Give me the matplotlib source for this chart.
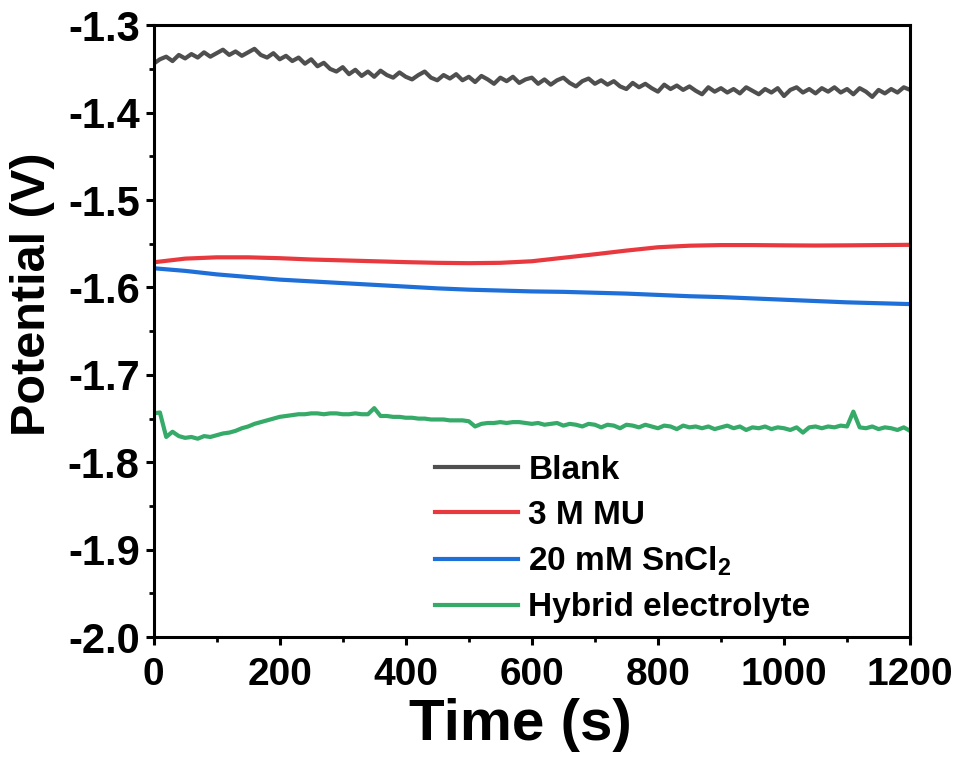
import numpy as np
import matplotlib
matplotlib.use('Agg')
import matplotlib.pyplot as plt
from matplotlib.ticker import MultipleLocator

plt.rcParams['font.family'] = ['Liberation Sans', 'DejaVu Sans']
plt.rcParams['font.weight'] = 'bold'
plt.rcParams['mathtext.fontset'] = 'custom'
plt.rcParams['mathtext.rm'] = 'Liberation Sans:bold'
plt.rcParams['mathtext.bf'] = 'Liberation Sans:bold'
plt.rcParams['mathtext.default'] = 'bf'

# time grids (s)
t_fine = np.arange(0, 1201, 10)
t_coarse = np.arange(0, 1201, 50)

# open circuit potential (V)
blank = [
    -1.344, -1.339, -1.336, -1.341, -1.334, -1.338, -1.333, -1.337, -1.331, -1.336, -1.332, -1.328,
    -1.334, -1.330, -1.335, -1.331, -1.327, -1.334, -1.337, -1.332, -1.339, -1.335, -1.341, -1.337,
    -1.344, -1.339, -1.347, -1.343, -1.350, -1.353, -1.348, -1.356, -1.351, -1.358, -1.353, -1.359,
    -1.352, -1.357, -1.360, -1.354, -1.359, -1.362, -1.357, -1.353, -1.360, -1.363, -1.357, -1.361,
    -1.356, -1.363, -1.359, -1.365, -1.358, -1.362, -1.367, -1.360, -1.364, -1.359, -1.366, -1.362,
    -1.360, -1.367, -1.362, -1.368, -1.363, -1.360, -1.366, -1.370, -1.364, -1.361, -1.367, -1.363,
    -1.368, -1.364, -1.370, -1.373, -1.366, -1.371, -1.367, -1.372, -1.376, -1.368, -1.373, -1.369,
    -1.374, -1.370, -1.375, -1.379, -1.371, -1.376, -1.372, -1.377, -1.373, -1.378, -1.371, -1.375,
    -1.379, -1.373, -1.377, -1.372, -1.381, -1.374, -1.371, -1.377, -1.373, -1.378, -1.372, -1.376,
    -1.371, -1.377, -1.373, -1.379, -1.372, -1.376, -1.382, -1.374, -1.378, -1.373, -1.377, -1.371,
    -1.374,
]

mu = [
    -1.5712, -1.5670, -1.5655, -1.5655, -1.5665, -1.5680, -1.5690, -1.5700, -1.5710,
    -1.5718, -1.5722, -1.5718, -1.5700, -1.5660, -1.5620, -1.5578, -1.5540, -1.5522,
    -1.5515, -1.5515, -1.5518, -1.5520, -1.5518, -1.5515, -1.5512,
]

sncl2 = [
    -1.578, -1.581, -1.585, -1.588, -1.591, -1.593, -1.595, -1.597, -1.599,
    -1.601, -1.6025, -1.6035, -1.6045, -1.605, -1.606, -1.607, -1.6085, -1.610,
    -1.611, -1.6125, -1.614, -1.6155, -1.617, -1.618, -1.619,
]

hybrid = [
    -1.744, -1.743, -1.771, -1.765, -1.770, -1.772, -1.771, -1.773, -1.770, -1.771, -1.769, -1.767,
    -1.766, -1.764, -1.761, -1.759, -1.756, -1.754, -1.752, -1.750, -1.748, -1.747, -1.746, -1.745,
    -1.745, -1.744, -1.744, -1.745, -1.744, -1.744, -1.745, -1.745, -1.744, -1.745, -1.745, -1.738,
    -1.747, -1.747, -1.748, -1.748, -1.749, -1.749, -1.750, -1.750, -1.751, -1.751, -1.751, -1.752,
    -1.752, -1.752, -1.753, -1.759, -1.756, -1.755, -1.755, -1.754, -1.755, -1.754, -1.754, -1.755,
    -1.756, -1.755, -1.757, -1.756, -1.755, -1.758, -1.756, -1.757, -1.759, -1.756, -1.757, -1.760,
    -1.757, -1.758, -1.761, -1.757, -1.758, -1.760, -1.757, -1.759, -1.761, -1.758, -1.759, -1.762,
    -1.758, -1.760, -1.759, -1.761, -1.759, -1.762, -1.760, -1.758, -1.761, -1.759, -1.763, -1.760,
    -1.761, -1.759, -1.762, -1.760, -1.761, -1.763, -1.760, -1.766, -1.760, -1.759, -1.761, -1.759,
    -1.760, -1.758, -1.759, -1.742, -1.760, -1.761, -1.759, -1.762, -1.760, -1.761, -1.763, -1.760,
    -1.764,
]

fig = plt.figure(figsize=(9.6, 7.64), dpi=100)
ax = fig.add_axes([0.160, 0.166, 0.788, 0.801])

lw = 3.0
ax.plot(t_fine, blank, color='#4f4f4f', lw=lw, label='Blank')
ax.plot(t_coarse, mu, color='#e8393f', lw=lw, label='3 M MU')
ax.plot(t_coarse, sncl2, color='#1f6fd8', lw=lw, label='20 mM SnCl$_2$')
ax.plot(t_fine, hybrid, color='#36aa68', lw=lw, label='Hybrid electrolyte')

ax.set_xlim(0, 1200)
ax.set_ylim(-2.0, -1.3)
ax.xaxis.set_major_locator(MultipleLocator(200))
ax.xaxis.set_minor_locator(MultipleLocator(100))
ax.yaxis.set_major_locator(MultipleLocator(0.1))
ax.yaxis.set_minor_locator(MultipleLocator(0.05))
ax.yaxis.set_major_formatter(plt.FuncFormatter(lambda v, p: f'{v:.1f}'))

for s in ax.spines.values():
    s.set_linewidth(2.2)
ax.tick_params(which='major', direction='out', length=6, width=2.2, pad=4)
ax.tick_params(axis='x', which='major', labelsize=28, pad=8)
ax.tick_params(axis='y', which='major', labelsize=30)
ax.tick_params(which='minor', direction='out', length=3.5, width=2.0)

ax.set_xlabel('Time (s)', fontsize=42, fontweight='bold', labelpad=0)
ax.xaxis.set_label_coords(0.485, -0.1, transform=ax.transAxes)
ax.xaxis.label.set_va('top')
ax.set_ylabel('Potential (V)', fontsize=35, fontweight='bold', labelpad=8)
ax.yaxis.set_label_coords(-0.131, 0.56, transform=ax.transAxes)

ax.legend(loc='upper left', bbox_to_anchor=(0.372, 0.298), frameon=False,
          fontsize=24, handlelength=2.5, handletextpad=0.3, labelspacing=0.42,
          borderpad=0, borderaxespad=0)

fig.savefig('out.png', dpi=100)
